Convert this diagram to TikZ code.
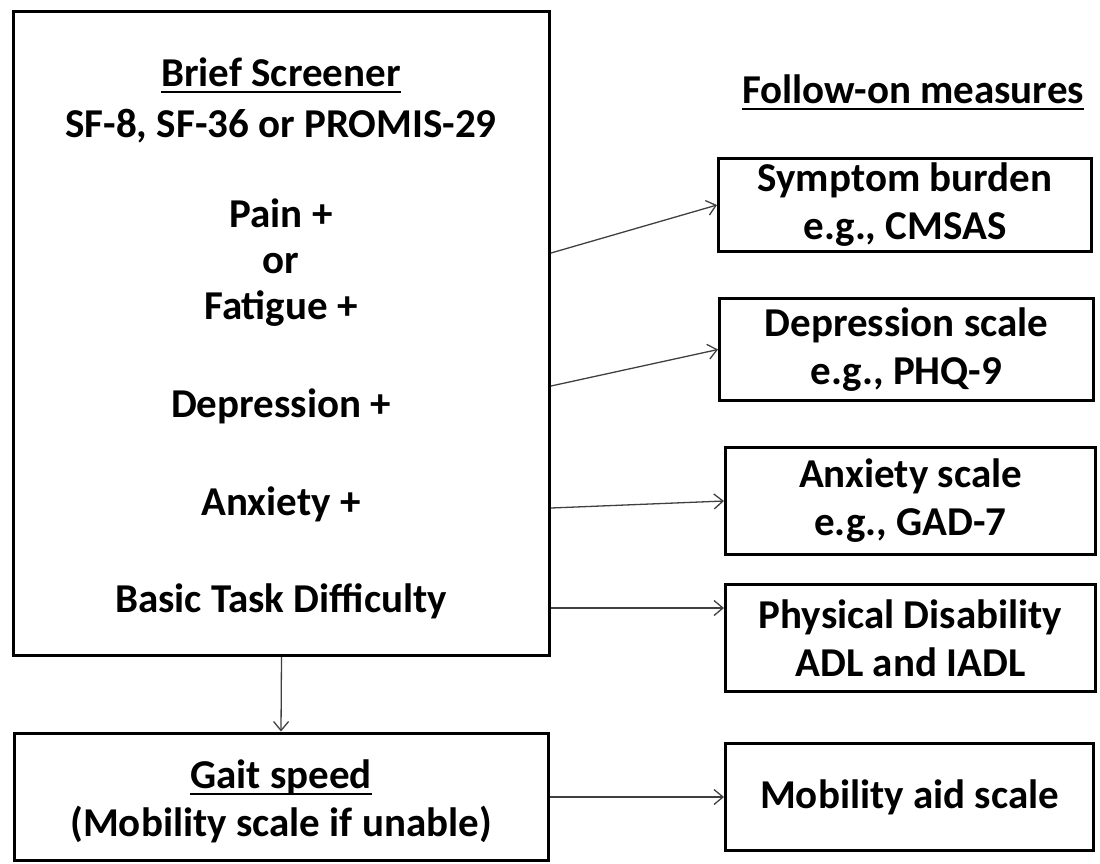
\documentclass[tikz,border=0pt]{standalone}
\usepackage{fontspec}
\setmainfont{Carlito}
\usetikzlibrary{arrows.meta,calc}
\newcommand{\myul}[1]{\setbox0\hbox{#1}\rlap{\rule[-7pt]{\wd0}{2.5pt}}\box0}
\begin{document}
\begin{tikzpicture}[x=1pt,y=-1pt,
  box/.style={draw=black,line width=3pt,inner sep=0pt},
  txt/.style={font=\fontsize{41}{48}\selectfont\bfseries,anchor=base,inner sep=0pt},
  btxt/.style={box,font=\fontsize{41}{48}\selectfont\bfseries,align=center},
  arr/.style={draw=black!75,line width=1.3pt,-{Straight Barb[length=9pt,width=15pt,line width=1.3pt]}}]
\useasboundingbox (0,0) rectangle (1100,863);
% main box
\node[box,minimum width=536pt,minimum height=644pt] (main) at (281.5,333.5) {};
\node[txt] (t1) at (281,86) {\myul{Brief Screener}};
\node[txt] (t2) at (281,137) {SF-8, SF-36 or PROMIS-29};
\node[txt] (t3) at (281,227) {Pain +};
\node[txt] (t4) at (281,273) {or};
\node[txt] (t5) at (281,319) {Fatigue +};
\node[txt] (t6) at (281,417) {Depression +};
\node[txt] (t7) at (281,515) {Anxiety +};
\node[txt] (t8) at (281,612) {Basic Task Difficulty};
% gait box
\node[box,minimum width=534pt,minimum height=127pt] (gait) at (281,796.5) {};
\node[txt] (g1) at (281,788) {\myul{Gait speed}};
\node[txt] (g2) at (281,836) {(Mobility scale if unable)};
% heading
\node[txt] (head) at (913,103) {\myul{Follow-on measures}};
% right boxes
\node[btxt,minimum width=373pt,minimum height=93pt] (symp) at (905,205) {Symptom burden\\e.g., CMSAS};
\node[btxt,minimum width=374pt,minimum height=102pt] (dep) at (906.5,349.5) {Depression scale\\e.g., PHQ-9};
\node[btxt,minimum width=370pt,minimum height=107pt] (anx) at (910.5,501) {Anxiety scale\\e.g., GAD-7};
\node[btxt,minimum width=370pt,minimum height=107pt] (phys) at (910.5,638) {Physical Disability\\ADL and IADL};
\node[btxt,minimum width=368pt,minimum height=107pt] (mob) at (909.5,797) {Mobility aid scale};
% connectors
\draw[arr] (main.east |- 0,253) -- (symp.west);
\draw[arr] (main.east |- 0,386) -- (dep.west);
\draw[arr] (main.east |- 0,508) -- (anx.west);
\draw[arr] (main.east |- 0,608) -- (phys.west |- 0,608);
\draw[arr] (main.south) -- (gait.north);
\draw[arr] (gait.east |- mob.west) -- (mob.west);
\end{tikzpicture}
\end{document}
